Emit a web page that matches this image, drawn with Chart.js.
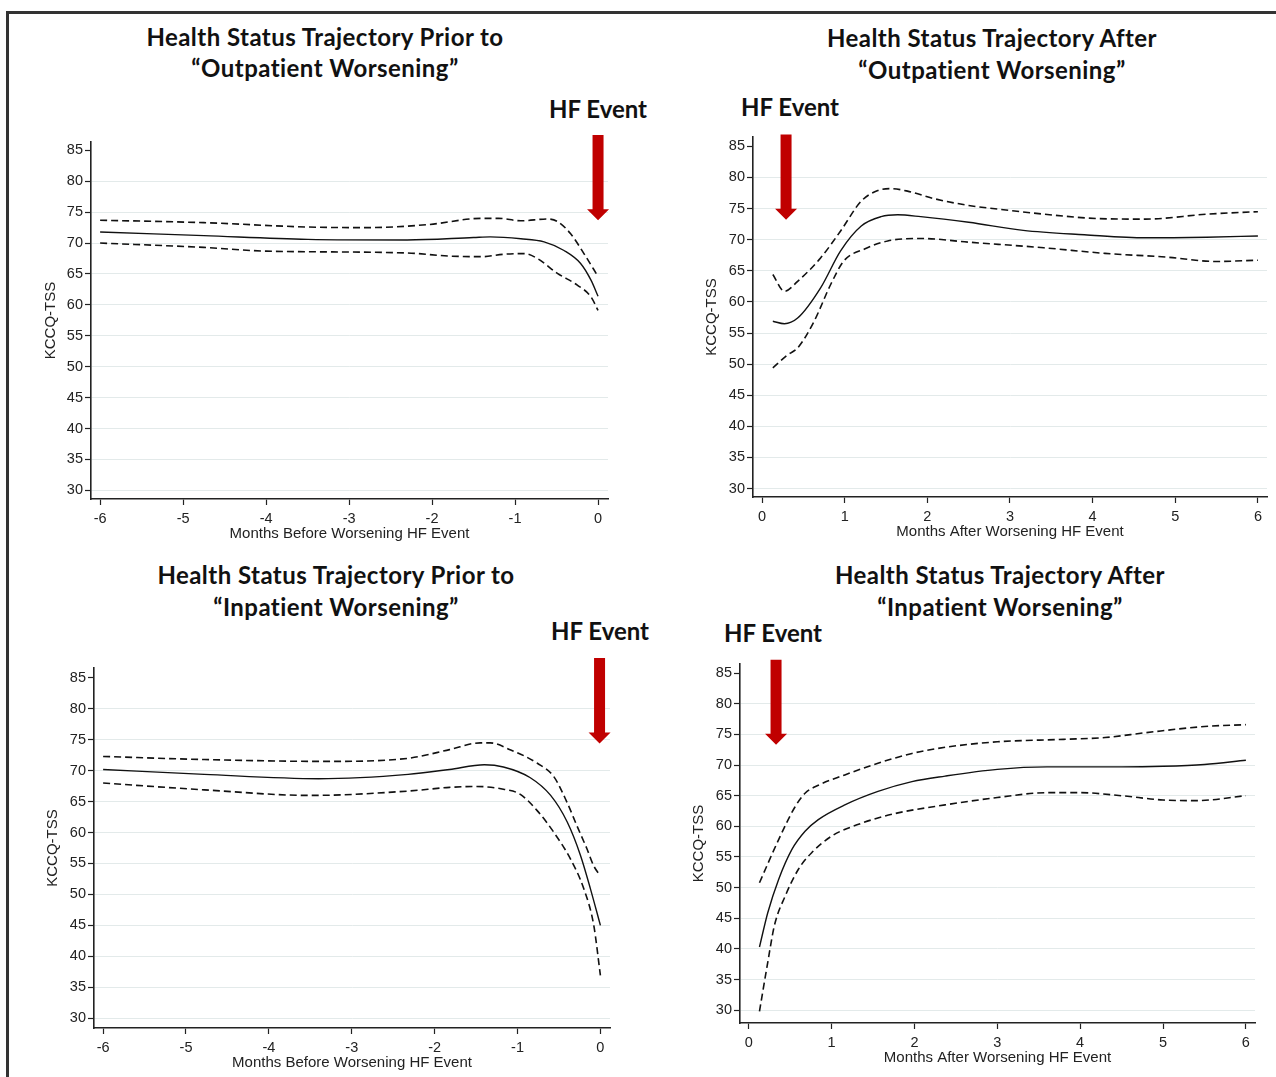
<!DOCTYPE html>
<html>
<head>
<meta charset="utf-8">
<script src="https://cdn.jsdelivr.net/npm/chart.js@4.4.1/dist/chart.umd.min.js"></script>
<style>
  html, body { margin: 0; padding: 0; background: #fff; }
  body { width: 1276px; height: 1077px; position: relative; overflow: hidden; }
  .frame-top { position: absolute; left: 6px; top: 11px; width: 1280px; height: 2.5px; background: #333; }
  .frame-left { position: absolute; left: 6px; top: 11px; width: 2.5px; height: 1080px; background: #333; }
  .title { position: absolute; transform: translate(-50%, -50%); white-space: nowrap;
           font-family: Lato, "Open Sans", sans-serif; font-weight: 700; font-size: 24px;
           letter-spacing: 0.45px; color: #111; }
  .hf { position: absolute; transform: translate(-50%, -50%); white-space: nowrap;
        font-family: Lato, "Open Sans", sans-serif; font-weight: 700; font-size: 24px; color: #111; }
  canvas { position: absolute; }
</style>
</head>
<body>
<div class="frame-top"></div>
<div class="frame-left"></div>

<div class="title" style="left:325px; top:36px">Health Status Trajectory Prior to</div>
<div class="title" style="left:325px; top:67px">“Outpatient Worsening”</div>
<div class="title" style="left:992px; top:37px">Health Status Trajectory After</div>
<div class="title" style="left:992px; top:69px">“Outpatient Worsening”</div>
<div class="title" style="left:336px; top:574px">Health Status Trajectory Prior to</div>
<div class="title" style="left:336px; top:606px">“Inpatient Worsening”</div>
<div class="title" style="left:1000px; top:574px">Health Status Trajectory After</div>
<div class="title" style="left:1000px; top:606px">“Inpatient Worsening”</div>

<div class="hf" style="left:598px; top:108px">HF Event</div>
<div class="hf" style="left:790px; top:106px">HF Event</div>
<div class="hf" style="left:600px; top:630px">HF Event</div>
<div class="hf" style="left:773px; top:632px">HF Event</div>

<canvas id="c1"></canvas>
<canvas id="c2"></canvas>
<canvas id="c3"></canvas>
<canvas id="c4"></canvas>

<script>
// ---- data ----
const yTicks = [30, 35, 40, 45, 50, 55, 60, 65, 70, 75, 80, 85];
const beforeTicks = [-6, -5, -4, -3, -2, -1, 0];
const afterTicks = [0, 1, 2, 3, 4, 5, 6];

// prior to outpatient worsening
const p1EstX = [-6, -4.75, -3.5, -2.3, -1.5, -1.3, -0.93, -0.65, -0.41, -0.21, -0.085, 0];
const p1EstY = [71.8, 71.2, 70.6, 70.5, 70.9, 71.0, 70.7, 70.2, 68.8, 66.7, 64.0, 61.4];
const p1HiX = [-6, -4.75, -3.5, -2.8, -2.04, -1.4, -1.2, -0.93, -0.61, -0.49, -0.33, -0.17, 0];
const p1HiY = [73.7, 73.3, 72.6, 72.5, 73.0, 74.0, 74.0, 73.6, 73.9, 73.5, 71.5, 68.3, 64.6];
const p1LoX = [-6, -4.75, -4.0, -2.3, -1.8, -1.4, -1.13, -0.89, -0.73, -0.49, -0.25, -0.085, 0];
const p1LoY = [70.0, 69.3, 68.7, 68.4, 67.9, 67.8, 68.2, 68.3, 67.5, 65.1, 63.2, 61.3, 59.1];

// after outpatient worsening
const p2EstX = [0.13, 0.27, 0.43, 0.71, 0.95, 1.2, 1.44, 1.64, 1.92, 2.5, 3.16, 3.9, 4.64, 5.38, 6.0];
const p2EstY = [56.9, 56.5, 57.4, 62.3, 68.2, 72.2, 73.7, 74.0, 73.7, 72.8, 71.5, 70.8, 70.3, 70.4, 70.6];
const p2HiX = [0.13, 0.27, 0.43, 0.71, 0.95, 1.2, 1.4, 1.56, 1.76, 2.08, 2.5, 3.0, 3.41, 4.05, 4.64, 5.38, 6.0];
const p2HiY = [64.4, 61.7, 63.3, 67.1, 71.4, 76.2, 77.9, 78.2, 77.8, 76.6, 75.5, 74.7, 74.1, 73.4, 73.3, 74.1, 74.5];
const p2LoX = [0.13, 0.31, 0.43, 0.63, 0.83, 0.99, 1.24, 1.52, 1.92, 2.5, 3.41, 4.15, 4.89, 5.49, 6.0];
const p2LoY = [49.4, 51.5, 52.6, 56.9, 62.8, 66.6, 68.5, 69.8, 70.2, 69.6, 68.7, 67.8, 67.2, 66.5, 66.7];

// prior to inpatient worsening
const p3EstX = [-6, -4.78, -3.4, -2.32, -1.82, -1.4, -1.17, -0.85, -0.6, -0.4, -0.24, -0.12, 0];
const p3EstY = [70.2, 69.4, 68.7, 69.4, 70.2, 70.95, 70.6, 68.9, 66.0, 61.7, 56.3, 50.9, 45.0];
const p3HiX = [-6, -4.78, -3.3, -2.32, -1.82, -1.45, -1.33, -1.09, -0.76, -0.56, -0.4, -0.28, -0.16, -0.08, 0];
const p3HiY = [72.3, 71.8, 71.5, 72.0, 73.4, 74.5, 74.5, 73.4, 71.2, 69.0, 64.8, 61.0, 57.3, 54.6, 53.0];
const p3LoX = [-6, -4.78, -3.5, -2.32, -1.82, -1.5, -1.17, -0.97, -0.76, -0.56, -0.36, -0.2, -0.08, 0];
const p3LoY = [68.0, 66.9, 66.0, 66.7, 67.3, 67.45, 67.0, 66.2, 63.5, 60.0, 55.7, 50.9, 45.0, 36.9];

// after inpatient worsening
const p4EstX = [0.13, 0.23, 0.36, 0.52, 0.68, 0.84, 1.16, 1.56, 1.97, 2.37, 3.0, 3.6, 4.5, 5.0, 5.5, 6.0];
const p4EstY = [40.3, 45.9, 51.3, 56.2, 59.2, 61.1, 63.5, 65.7, 67.3, 68.2, 69.3, 69.7, 69.7, 69.8, 70.1, 70.8];
const p4HiX = [0.13, 0.36, 0.56, 0.68, 0.84, 1.16, 1.56, 1.97, 2.37, 3.0, 3.8, 4.3, 4.8, 5.5, 6.0];
const p4HiY = [50.8, 57.8, 63.2, 65.4, 66.7, 68.4, 70.3, 71.9, 72.9, 73.8, 74.2, 74.5, 75.3, 76.3, 76.6];
const p4LoX = [0.13, 0.23, 0.31, 0.44, 0.6, 0.76, 1.0, 1.36, 1.77, 2.37, 3.0, 3.6, 4.0, 4.5, 5.0, 5.4, 6.0];
const p4LoY = [29.8, 37.8, 43.8, 48.6, 53.0, 55.7, 58.4, 60.5, 62.1, 63.5, 64.7, 65.5, 65.5, 65.0, 64.3, 64.2, 65.0];

const beforeTitle = 'Months Before Worsening HF Event';
const afterTitle = 'Months After Worsening HF Event';
const yTitle = 'KCCQ-TSS';

// ---- layout of the four panels (page pixels) ----
const panels = [
  { id: 'c1', L: 91, T: 142, R: 608, B: 499, yTitleX: 51, xMin: -6.11, xMax: 0.12, yMin: 28.6, yMax: 86.35,
    xTicks: beforeTicks, xTitle: beforeTitle, arrow: { x: 0, top: 87.5, tip: 73.7 },
    est: [p1EstX, p1EstY], hi: [p1HiX, p1HiY], lo: [p1LoX, p1LoY] },
  { id: 'c2', L: 753, T: 137, R: 1267, B: 497, yTitleX: 712, xMin: -0.11, xMax: 6.11, yMin: 28.65, yMax: 86.5,
    xTicks: afterTicks, xTitle: afterTitle, arrow: { x: 0.29, top: 86.9, tip: 73.2 },
    est: [p2EstX, p2EstY], hi: [p2HiX, p2HiY], lo: [p2LoX, p2LoY] },
  { id: 'c3', L: 94, T: 668, R: 610, B: 1028, yTitleX: 53, xMin: -6.11, xMax: 0.116, yMin: 28.4, yMax: 86.6,
    xTicks: beforeTicks, xTitle: beforeTitle, arrow: { x: -0.01, top: 88.2, tip: 74.4 },
    est: [p3EstX, p3EstY], hi: [p3HiX, p3HiY], lo: [p3LoX, p3LoY] },
  { id: 'c4', L: 740, T: 664, R: 1255, B: 1023, yTitleX: 699, xMin: -0.105, xMax: 6.11, yMin: 27.9, yMax: 86.5,
    xTicks: afterTicks, xTitle: afterTitle, arrow: { x: 0.33, top: 87.2, tip: 73.3 },
    est: [p4EstX, p4EstY], hi: [p4HiX, p4HiY], lo: [p4LoX, p4LoY] }
];

const tickFont = { family: '"Liberation Sans", Arial, sans-serif', size: 14.5 };
const axisTitleFont = { family: '"Liberation Sans", Arial, sans-serif', size: 15 };
const inkColor = '#222';
const gridColor = '#e3eaea';
const padTop = 50, padBottom = 4, xAxisH = 44;

// red "HF Event" arrow, positioned through the chart's own scales
const hfArrow = {
  id: 'hfArrow',
  afterDraw(chart, args, opts) {
    const { ctx, scales } = chart;
    const px = scales.x.getPixelForValue(opts.x);
    const top = scales.y.getPixelForValue(opts.top);
    const tip = scales.y.getPixelForValue(opts.tip);
    const headLen = 11, shaft = 5.5, head = 11;
    ctx.save();
    ctx.fillStyle = '#c00000';
    ctx.beginPath();
    ctx.moveTo(px - shaft, top);
    ctx.lineTo(px + shaft, top);
    ctx.lineTo(px + shaft, tip - headLen);
    ctx.lineTo(px + head, tip - headLen);
    ctx.lineTo(px, tip);
    ctx.lineTo(px - head, tip - headLen);
    ctx.lineTo(px - shaft, tip - headLen);
    ctx.closePath();
    ctx.fill();
    ctx.restore();
  }
};

function toPoints(pair) {
  return pair[0].map((x, i) => ({ x: x, y: pair[1][i] }));
}

function lineSet(pair, dashed) {
  return {
    data: toPoints(pair),
    borderColor: '#111',
    borderWidth: dashed ? 1.6 : 1.4,
    borderDash: dashed ? [7, 4] : [],
    pointRadius: 0,
    fill: false,
    cubicInterpolationMode: 'monotone'
  };
}

function drawPanel(p) {
  const canvas = document.getElementById(p.id);
  const left = Math.round(p.yTitleX - 9);
  const top = p.T - padTop;
  const right = Math.min(p.R + 9, 1276);
  const width = right - left;
  const height = p.B + xAxisH + padBottom - top;
  canvas.width = width;
  canvas.height = height;
  canvas.style.left = left + 'px';
  canvas.style.top = top + 'px';
  canvas.style.width = width + 'px';
  canvas.style.height = height + 'px';

  const yAxisW = p.L - left;

  new Chart(canvas.getContext('2d'), {
    type: 'line',
    data: { datasets: [lineSet(p.hi, true), lineSet(p.est, false), lineSet(p.lo, true)] },
    plugins: [hfArrow],
    options: {
      responsive: false,
      animation: false,
      layout: { padding: { top: padTop, right: right - p.R, bottom: padBottom, left: 0 } },
      plugins: {
        legend: { display: false },
        tooltip: { enabled: false },
        hfArrow: p.arrow
      },
      scales: {
        x: {
          type: 'linear',
          min: p.xMin,
          max: p.xMax,
          afterBuildTicks: s => { s.ticks = p.xTicks.map(v => ({ value: v })); },
          afterFit: s => { s.height = xAxisH; },
          grid: { drawOnChartArea: false, drawTicks: true, tickLength: 6, tickColor: inkColor, tickWidth: 1.2 },
          border: { color: inkColor, width: 1.6 },
          ticks: { font: tickFont, color: inkColor, padding: 5, maxRotation: 0, autoSkip: false },
          title: { display: true, text: p.xTitle, font: axisTitleFont, color: inkColor, padding: 0 }
        },
        y: {
          type: 'linear',
          min: p.yMin,
          max: p.yMax,
          afterBuildTicks: s => { s.ticks = yTicks.map(v => ({ value: v })); },
          afterFit: s => { s.width = yAxisW; },
          grid: {
            color: c => (c.tick && c.tick.value === 85) ? 'rgba(0,0,0,0)' : gridColor,
            lineWidth: 1, drawTicks: true, tickLength: 6, tickColor: inkColor, tickWidth: 1.2
          },
          border: { color: inkColor, width: 1.6 },
          ticks: { font: tickFont, color: inkColor, padding: 2 },
          title: { display: true, text: yTitle, font: axisTitleFont, color: inkColor, padding: 0 }
        }
      }
    }
  });
}

panels.forEach(drawPanel);
</script>
</body>
</html>
